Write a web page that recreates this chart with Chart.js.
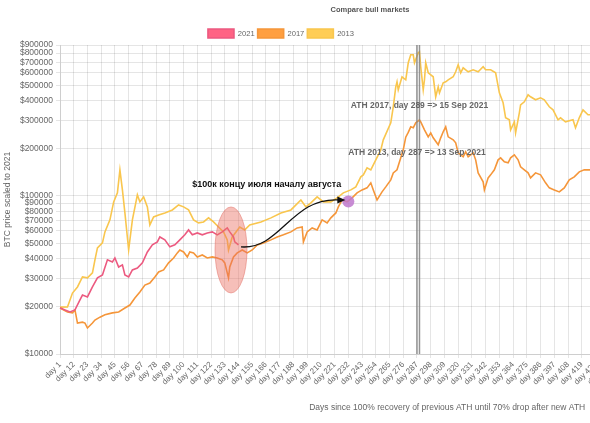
<!DOCTYPE html>
<html>
<head>
<meta charset="utf-8">
<script src="https://cdn.jsdelivr.net/npm/chart.js@4.4.1/dist/chart.umd.min.js"></script>
<style>
  html, body { margin: 0; padding: 0; background: #fff; overflow: hidden; }
  #wrap { width: 618px; height: 423px; }
</style>
</head>
<body>
<div id="wrap"><canvas id="chart"></canvas></div>
<script>
// days since recovery of previous ATH, and BTC price scaled to 2021 (USD)
const days2021 = [1, 5, 9, 13, 17, 19, 23, 27, 31, 35, 39, 43, 45, 48, 51, 53, 56, 59, 63, 67, 71, 75, 79, 81, 85, 89, 93, 97, 101, 104, 107, 111, 115, 119, 123, 127, 131, 135, 137, 140, 141, 144]
const btc2021 = [19600, 19000, 18450, 19000, 21970, 23600, 22960, 26550, 30300, 31600, 39400, 38200, 40500, 35500, 36600, 31600, 30700, 34000, 35000, 37700, 44200, 49000, 51200, 55000, 52700, 47600, 49000, 52700, 56700, 60900, 56700, 58300, 56700, 58300, 59200, 56700, 59200, 62700, 59200, 55000, 51200, 49000]

const days2017 = [1, 7, 11, 13, 15, 19, 21, 23, 27, 29, 33, 37, 43, 48, 53, 57, 61, 65, 69, 73, 77, 80, 84, 88, 92, 95, 97, 100, 103, 105, 108, 111, 115, 119, 123, 127, 131, 133, 135, 136, 137, 140, 143, 147, 151, 155, 159, 164, 170, 175, 180, 186, 191, 195, 196, 199, 203, 207, 211, 215, 218, 222, 224, 227, 231, 235, 239, 243, 247, 250, 252, 255, 259, 262, 266, 268, 271, 274, 276, 278, 280, 282, 284, 286, 289, 290, 293, 296, 298, 300, 304, 306, 308, 310, 312, 316, 318, 320, 324, 326, 328, 332, 334, 336, 340, 341, 344, 346, 349, 352, 354, 357, 360, 362, 365, 368, 370, 373, 376, 378, 382, 386, 390, 393, 397, 401, 405, 409, 413, 417, 421, 426, 432, 441]
const btc2017 = [19500, 18450, 18200, 19000, 15700, 15900, 15700, 14600, 15700, 16400, 17100, 17700, 18200, 18450, 19550, 20400, 22600, 24700, 27300, 28100, 30700, 33000, 34000, 37700, 40500, 43600, 45500, 44200, 41100, 44200, 43600, 41100, 42300, 40500, 41100, 40500, 39400, 37700, 32600, 30300, 35500, 41100, 43600, 45500, 43600, 45500, 49000, 50400, 52700, 55000, 56700, 59200, 62700, 63600, 51200, 59200, 62700, 60900, 70500, 67500, 72600, 78000, 85200, 94300, 91600, 97100, 104500, 109100, 112400, 120900, 109100, 94300, 106000, 114000, 126300, 139800, 146100, 174000, 195500, 235000, 252000, 273400, 269400, 289700, 302700, 294000, 261700, 236300, 250400, 232900, 210300, 232900, 254200, 273400, 236300, 226200, 216500, 187200, 176600, 189900, 176600, 187200, 169000, 139800, 122700, 109100, 130000, 135800, 146100, 169000, 174000, 164200, 161800, 174000, 181800, 169000, 152600, 146100, 139800, 130000, 139800, 135800, 120900, 112400, 109100, 106000, 112400, 126300, 131900, 141900, 146100, 146100, 148000, 150000]

const days2013 = [1, 7, 11, 15, 19, 23, 27, 29, 31, 35, 37, 41, 44, 47, 49, 51, 53, 56, 59, 63, 65, 68, 71, 73, 76, 80, 85, 91, 96, 100, 104, 108, 112, 116, 120, 124, 128, 132, 135, 136, 139, 145, 149, 153, 162, 170, 178, 186, 194, 198, 202, 207, 212, 218, 223, 228, 234, 238, 242, 244, 247, 250, 254, 258, 260, 266, 268, 270, 271, 272, 275, 278, 280, 282, 284, 285, 288, 289, 290, 292, 293, 294, 296, 300, 302, 304, 305, 308, 310, 312, 316, 318, 320, 322, 324, 328, 332, 336, 340, 342, 346, 350, 353, 356, 358, 361, 362, 365, 366, 369, 370, 373, 376, 378, 382, 386, 389, 393, 396, 400, 402, 406, 412, 414, 417, 420, 424, 426, 432, 441]
const btc2013 = [19800, 19850, 24300, 26550, 30700, 30300, 32600, 39400, 46900, 50400, 59200, 70500, 91600, 104500, 146100, 109100, 78000, 45500, 70500, 101500, 91600, 98600, 85200, 65500, 73600, 75800, 78000, 81500, 87700, 85200, 81500, 70500, 67500, 68400, 72600, 68400, 63600, 59200, 52700, 45500, 55000, 63600, 60900, 65500, 68400, 72600, 78000, 81500, 94300, 85200, 90300, 98600, 91600, 91600, 97100, 104500, 109100, 114000, 131900, 135800, 150400, 146100, 169000, 195500, 226200, 289700, 365900, 489700, 526700, 468700, 566500, 542300, 694600, 780500, 780500, 694600, 803600, 815400, 655300, 468700, 542300, 694600, 600500, 566500, 423300, 489700, 448700, 519100, 526700, 542300, 566500, 609300, 674600, 600500, 645800, 609300, 627300, 609300, 655300, 627300, 627300, 600500, 448700, 387800, 311700, 302700, 261700, 294000, 250400, 335200, 376700, 393500, 435800, 423300, 405200, 417200, 405200, 365900, 350200, 302700, 311700, 294000, 302700, 269400, 311700, 350200, 325600, 325600, 320000, 330000]

const dayCount = 441
const dayLabels = Array.from({ length: dayCount }, (_, i) => "day " + (i + 1))
const yTicks = [10000, 20000, 30000, 40000, 50000, 60000, 70000, 80000, 90000, 100000, 200000, 300000, 400000, 500000, 600000, 700000, 800000, 900000]

const pink = "#ff6384", orange = "#ff9f40", yellow = "#ffcd56"

function points(days, values) {
  return days.map((d, i) => ({ x: "day " + d, y: values[i] }))
}

// hand-drawn marks that sat on the original screenshot
const notes = {
  id: "notes",
  afterLayout(chart) {
    chart.titleBlock.left += 61
    chart.titleBlock.right += 61
    chart.legend.left -= 28
    chart.legend.right -= 28
    chart.legend.top += 3
    chart.legend.bottom += 3
  },
  afterDatasetsDraw(chart) {
    const { ctx, chartArea, scales: { x, y } } = chart
    const px = d => x.getPixelForValue(d - 1)
    const py = v => y.getPixelForValue(v)

    ctx.save()
    // ATH markers
    ctx.strokeStyle = "rgba(130, 130, 130, 0.85)"
    ctx.lineWidth = 1.5
    for (const d of [287, 289]) {
      ctx.beginPath()
      ctx.moveTo(px(d), chartArea.top)
      ctx.lineTo(px(d), chartArea.bottom)
      ctx.stroke()
    }
    ctx.font = "bold 8.5px 'Liberation Sans', Arial, sans-serif"
    ctx.fillStyle = "#666"
    ctx.textAlign = "center"
    ctx.textBaseline = "middle"
    ctx.fillText("ATH 2017, day 289 => 15 Sep 2021", px(289), py(371000))
    ctx.fillText("ATH 2013, day 287 => 13 Sep 2021", px(287), py(187200))

    // red ellipse over the dip
    ctx.beginPath()
    ctx.ellipse(px(138), py(45500), 16, 43, 0, 0, Math.PI * 2)
    ctx.fillStyle = "rgba(236, 112, 99, 0.45)"
    ctx.fill()
    ctx.strokeStyle = "rgba(225, 110, 100, 0.5)"
    ctx.lineWidth = 1
    ctx.stroke()

    // purple target
    ctx.beginPath()
    ctx.arc(px(232), py(92000), 6, 0, Math.PI * 2)
    ctx.fillStyle = "rgba(190, 120, 205, 0.85)"
    ctx.fill()

    // arrow
    const p0 = [px(146), py(47600)], c1 = [px(178), py(45500)], c2 = [px(186), py(98600)], p3 = [px(228), py(94300)]
    ctx.beginPath()
    ctx.moveTo(p0[0], p0[1])
    ctx.bezierCurveTo(c1[0], c1[1], c2[0], c2[1], p3[0] - 4, p3[1])
    ctx.strokeStyle = "#111"
    ctx.lineWidth = 1.3
    ctx.stroke()
    ctx.beginPath()
    ctx.moveTo(p3[0] + 2, p3[1])
    ctx.lineTo(p3[0] - 6, p3[1] - 3.5)
    ctx.lineTo(p3[0] - 6, p3[1] + 3.5)
    ctx.closePath()
    ctx.fillStyle = "#111"
    ctx.fill()

    ctx.font = "bold 9px 'Liberation Sans', Arial, sans-serif"
    ctx.textAlign = "left"
    ctx.fillText("$100к концу июля началу августа", px(107), py(117400))
    ctx.restore()
  },
  afterDraw(chart) {
    const { ctx, chartArea } = chart
    ctx.save()
    ctx.font = "8.5px 'Liberation Sans', Arial, sans-serif"
    ctx.fillStyle = "#666"
    ctx.textAlign = "right"
    ctx.textBaseline = "middle"
    ctx.fillText("Days since 100% recovery of previous ATH until 70% drop after new ATH", chartArea.right - 24, chart.height - 15)
    ctx.restore()
  }
}

Chart.defaults.font.family = "'Liberation Sans', Arial, sans-serif"
Chart.defaults.font.size = 8.5
Chart.defaults.color = "#666"

new Chart(document.getElementById("chart"), {
  type: "line",
  data: {
    labels: dayLabels,
    datasets: [
      { label: "2021", data: points(days2021, btc2021), borderColor: "#ec5a80", backgroundColor: pink },
      { label: "2017", data: points(days2017, btc2017), borderColor: "#f5963a", backgroundColor: orange },
      { label: "2013", data: points(days2013, btc2013), borderColor: "#f9c64e", backgroundColor: yellow }
    ]
  },
  options: {
    responsive: true,
    maintainAspectRatio: false,
    animation: false,
    elements: {
      line: { borderWidth: 1.6, tension: 0, fill: false },
      point: { radius: 0 }
    },
    plugins: {
      title: {
        display: true,
        text: "Compare bull markets",
        color: "#555",
        font: { size: 7.5, weight: "bold" },
        padding: { top: 5.5, bottom: 8.5 }
      },
      legend: {
        position: "top",
        labels: { boxWidth: 26, boxHeight: 9, padding: 3, font: { size: 7.6 } }
      },
      tooltip: { enabled: false }
    },
    scales: {
      x: {
        grid: { color: "rgba(0, 0, 0, 0.1)", tickLength: 4 },
        ticks: { autoSkip: false, minRotation: 45, maxRotation: 45, padding: 2, font: { size: 8 } },
        afterBuildTicks: scale => {
          scale.ticks = scale.ticks.filter(t => t.value % 11 === 0)
        },
        afterFit: scale => { scale.height = 69 }
      },
      y: {
        type: "logarithmic",
        min: 10000,
        max: 900000,
        grid: { color: "rgba(0, 0, 0, 0.1)", tickLength: 4 },
        ticks: { autoSkip: false, padding: 3, callback: v => "$" + v },
        afterBuildTicks: scale => {
          scale.ticks = yTicks.map(v => ({ value: v }))
        },
        afterFit: scale => { scale.width = 60 },
        title: { display: true, text: "BTC price scaled to 2021", padding: { top: 3, bottom: 0 } }
      }
    }
  },
  plugins: [notes]
})
</script>
</body>
</html>
